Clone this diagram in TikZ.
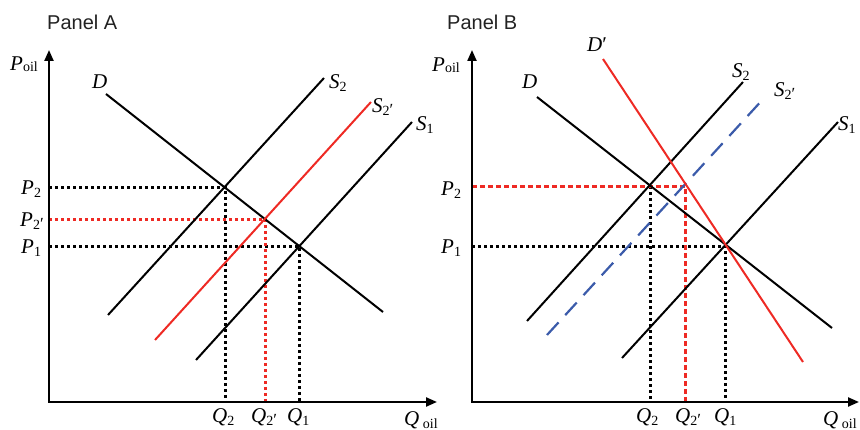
\documentclass[tikz,border=0pt]{standalone}
\usepackage{fontspec}
\setmainfont{Liberation Serif}
\setsansfont{Liberation Sans}
\usetikzlibrary{arrows.meta,intersections}
\definecolor{myred}{HTML}{EE2A24}
\definecolor{myblue}{HTML}{3B5BAA}
\definecolor{titlegray}{HTML}{222222}
\newcommand\lsub[1]{\raisebox{-0.3ex}{\fontsize{14}{14}\selectfont #1}}
\newcommand\lsubp[1]{\raisebox{-0.3ex}{\fontsize{14}{14}\selectfont #1\fontsize{17}{17}\selectfont ′}}
\newcommand\psub[1]{\raisebox{-0.05ex}{\fontsize{14}{14}\selectfont #1}}
\newcommand\qsub[1]{\,\raisebox{-0.35ex}{\fontsize{14}{14}\selectfont #1}}
\tikzset{
  curve/.style={line width=2pt},
  axisline/.style={line width=2.2pt, line join=miter, {Triangle[length=11pt,width=9pt]}-{Triangle[length=11pt,width=9pt]}},
  dotline/.style={line width=3pt, dash pattern=on 3pt off 3pt},
  dashline/.style={line width=3pt, dash pattern=on 5pt off 3pt},
  bluedash/.style={line width=2.2pt, myblue, dash pattern=on 17pt off 10pt},
  lbl/.style={inner sep=0pt, anchor=base west, font=\fontsize{21}{21}\selectfont},
  paneltitle/.style={inner sep=0pt, anchor=base west, text=titlegray, font=\sffamily\fontsize{20}{20}\selectfont},
}
\begin{document}
\begin{tikzpicture}[x=1pt,y=-1pt]
\useasboundingbox (0,0) rectangle (860,430);

% ---------------- Panel A ----------------
\node[paneltitle] (titleA) at (47,30) {Panel A};
\coordinate (oA) at (49,402);
\coordinate (yA) at (49,50);
\coordinate (xA) at (437,402);

\coordinate (E2A) at (225.5,187.5);
\coordinate (E2pA) at (265.5,219.5);
\coordinate (E1A) at (299.5,246.5);

\coordinate (dA1) at (106,94);   \coordinate (dA2) at (383,312);
\coordinate (s2A1) at (108,315); \coordinate (s2A2) at (324,78);
\coordinate (s2pA1) at (155,340); \coordinate (s2pA2) at (371,102);
\coordinate (s1A1) at (196,360); \coordinate (s1A2) at (412,122);

\draw[dotline] (E2A -| oA) -- (E2A) -- (E2A |- oA);
\draw[dotline] (E1A -| oA) -- (E1A) -- (E1A |- oA);
\draw[dotline, myred] (E2pA -| oA) -- (E2pA) -- (E2pA |- oA);

\draw[curve] (dA1) -- (dA2);
\draw[curve] (s2A1) -- (s2A2);
\draw[curve, myred] (s2pA1) -- (s2pA2);
\draw[curve] (s1A1) -- (s1A2);

\draw[axisline] (yA) -- (oA) -- (xA);

\node[lbl] (poilA) at (10,71) {\textit{P}\psub{oil}};
\node[lbl] (DlabA) at (92,89) {\textit{D}};
\node[lbl] (S2labA) at (329,89) {\textit{S}\lsub{2}};
\node[lbl] (S2plabA) at (372,113) {\textit{S}\lsubp{2}};
\node[lbl] (S1labA) at (416,131) {\textit{S}\lsub{1}};
\node[lbl] (P2labA) at (21,195) {\textit{P}\lsub{2}};
\node[lbl] (P2plabA) at (20,227) {\textit{P}\lsubp{2}};
\node[lbl] (P1labA) at (21,254) {\textit{P}\lsub{1}};
\node[lbl] (Q2labA) at (212,423) {\textit{Q}\lsub{2}};
\node[lbl] (Q2plabA) at (251,423) {\textit{Q}\lsubp{2}};
\node[lbl] (Q1labA) at (287,423) {\textit{Q}\lsub{1}};
\node[lbl] (QoilA) at (404,425) {\textit{Q}\qsub{oil}};

% ---------------- Panel B ----------------
\node[paneltitle] (titleB) at (447,30) {Panel B};
\coordinate (oB) at (472,402);
\coordinate (yB) at (472,50);
\coordinate (xB) at (859,402);

\coordinate (E2B) at (650.5,186.5);
\coordinate (E2pB) at (685.5,186.5);
\coordinate (E1B) at (725.5,246.5);

\coordinate (dB1) at (537,97);   \coordinate (dB2) at (832,328);
\coordinate (dpB1) at (603,59);  \coordinate (dpB2) at (803,362);
\coordinate (s2B1) at (527,321); \coordinate (s2B2) at (743,82);
\coordinate (s2pB1) at (547,335); \coordinate (s2pB2) at (765,97);
\coordinate (s1B1) at (622,358); \coordinate (s1B2) at (838,122);

\draw[dotline] (E2B) -- (E2B |- oB);
\draw[dotline] (E1B -| oB) -- (E1B) -- (E1B |- oB);
\draw[dashline, myred] (E2B -| oB) -- (E2pB) -- (E2pB |- oB);

\draw[curve] (dB1) -- (dB2);
\draw[curve] (s2B1) -- (s2B2);
\draw[bluedash] (s2pB1) -- (s2pB2);
\draw[curve] (s1B1) -- (s1B2);
\draw[curve, myred] (dpB1) -- (dpB2);

\draw[axisline] (yB) -- (oB) -- (xB);

\node[lbl] (poilB) at (432,72) {\textit{P}\psub{oil}};
\node[lbl] (DlabB) at (522,89) {\textit{D}};
\node[lbl] (DplabB) at (587,52) {\textit{D}′};
\node[lbl] (S2labB) at (732,78) {\textit{S}\lsub{2}};
\node[lbl] (S2plabB) at (774,97) {\textit{S}\lsubp{2}};
\node[lbl] (S1labB) at (838,131) {\textit{S}\lsub{1}};
\node[lbl] (P2labB) at (441,196) {\textit{P}\lsub{2}};
\node[lbl] (P1labB) at (441,254) {\textit{P}\lsub{1}};
\node[lbl] (Q2labB) at (636,423) {\textit{Q}\lsub{2}};
\node[lbl] (Q2plabB) at (675,423) {\textit{Q}\lsubp{2}};
\node[lbl] (Q1labB) at (714,423) {\textit{Q}\lsub{1}};
\node[lbl] (QoilB) at (823,425) {\textit{Q}\qsub{oil}};
\end{tikzpicture}
\end{document}
